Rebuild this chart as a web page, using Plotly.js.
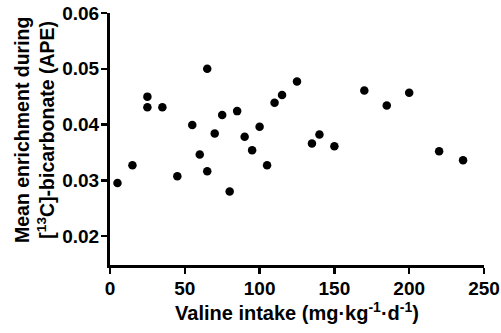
<!DOCTYPE html>
<html>
<head>
<meta charset="utf-8">
<script src="https://cdn.plot.ly/plotly-3.0.1.min.js"></script>
<style>
  html, body { margin: 0; padding: 0; background: #fff; }
  #chart { width: 501px; height: 333px; }
</style>
</head>
<body>
<div id="chart"></div>
<script>
// Valine intake (mg·kg-1·d-1) per subject
const valineIntake = [5, 15, 25, 25, 35, 45, 55, 60, 65, 65, 70, 75, 80, 85, 90,
                      95, 100, 105, 110, 115, 125, 135, 140, 150, 170, 185, 200, 220, 236];
// Mean 13C enrichment in bicarbonate (APE)
const meanEnrichment = [0.0295, 0.0327, 0.0450, 0.0431, 0.0431, 0.0307, 0.0399, 0.0346, 0.0500, 0.0316,
                        0.0384, 0.0417, 0.0280, 0.0424, 0.0378, 0.0354, 0.0396, 0.0327, 0.0439, 0.0453,
                        0.0477, 0.0366, 0.0382, 0.0361, 0.0461, 0.0434, 0.0457, 0.0352, 0.0336];
const xTicks = [0, 50, 100, 150, 200, 250];
const xTickText = ['0', '50', '100', '150', '200', '250'];
const yTicks = [0.02, 0.03, 0.04, 0.05, 0.06];
const yTickText = ['0.02', '0.03', '0.04', '0.05', '0.06'];
const xTitle = 'Valine intake (mg·kg<sup>-1</sup>·d<sup>-1</sup>)';
const yTitle = 'Mean enrichment during<br>[<sup>13</sup>C]-bicarbonate (APE)';

const fontFamily = '"Liberation Sans", Arial, sans-serif';
const tickSize = 19;
const titleSize = 19.5;

const trace = {
  x: valineIntake,
  y: meanEnrichment,
  type: 'scatter',
  mode: 'markers',
  marker: { color: '#000', size: 8.5, line: { width: 0 } },
  cliponaxis: false,
  hoverinfo: 'skip'
};

const axisCommon = {
  showline: true,
  linecolor: '#000',
  linewidth: 3,
  ticks: 'outside',
  ticklen: 6,
  tickwidth: 2.5,
  tickcolor: '#000',
  showgrid: false,
  zeroline: false,
  tickfont: { family: fontFamily, size: tickSize, color: '#000', weight: 700 },
  ticklabelstandoff: -2,
  fixedrange: true
};

const layout = {
  width: 501,
  height: 333,
  margin: { l: 110, r: 17, t: 13, b: 68 },
  paper_bgcolor: '#fff',
  plot_bgcolor: '#fff',
  showlegend: false,
  font: { family: fontFamily, weight: 700, color: '#000' },
  xaxis: Object.assign({}, axisCommon, {
    range: [0, 250],
    tickmode: 'array',
    tickvals: xTicks,
    ticktext: xTickText,
    title: {
      text: xTitle,
      font: { family: fontFamily, size: titleSize + 0.5, color: '#000', weight: 700 },
      standoff: 6
    }
  }),
  yaxis: Object.assign({}, axisCommon, {
    range: [0.0148, 0.06],
    tickmode: 'array',
    tickvals: yTicks,
    ticktext: yTickText
  }),
  // two-line rotated y title, placed as an annotation so it can sit a little above centre
  annotations: [{
    text: yTitle,
    textangle: -90,
    xref: 'paper', yref: 'paper',
    x: 0, y: 0.5,
    xanchor: 'center', yanchor: 'middle',
    xshift: -76, yshift: 9,
    showarrow: false,
    align: 'center',
    font: { family: fontFamily, size: titleSize, color: '#000', weight: 700 }
  }]
};

Plotly.newPlot('chart', [trace], layout, { displayModeBar: false, staticPlot: true });
</script>
</body>
</html>
